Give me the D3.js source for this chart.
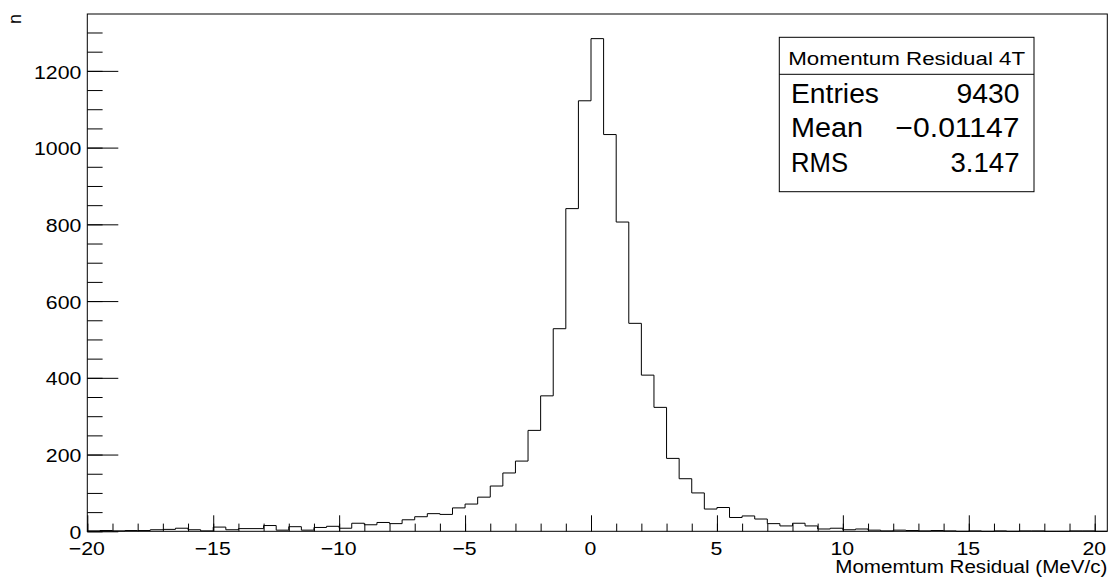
<!DOCTYPE html>
<html>
<head>
<meta charset="utf-8">
<script src="https://cdn.jsdelivr.net/npm/d3@7"></script>
<style>
  html, body { margin: 0; padding: 0; background: #fff; }
  svg { display: block; font-family: "Liberation Sans", Arial, Helvetica, sans-serif; }
</style>
</head>
<body>
<svg id="chart" width="1109" height="577"></svg>
<script>
// Histogram binning: 81 bins of 0.5 MeV/c starting at -20
const binStart = -20;
const binWidth = 0.5;
const counts = [
  1, 2, 1, 2, 2, 4, 5, 8, 4, 1,
  11, 4, 7, 7, 15, 3, 12, 3, 10, 13,
  8, 21, 17, 23, 20, 30, 38, 46, 44,
  61, 71, 89, 118, 152, 183, 263, 353, 528,
  841, 1122, 1284, 1034, 806,
  542, 407, 323, 190, 137, 100, 58, 62, 36, 40, 32, 20, 14, 21, 14, 6, 8, 4, 6, 3, 1, 3,
  2, 1, 2, 1, 0, 1, 0, 1, 0, 1, 1, 0, 0, 1, 1, 0
];

// Axis ticks and labels
const xMajorTicks = [-20, -15, -10, -5, 0, 5, 10, 15, 20];
const xMinorTicks = d3.range(-20, 21, 1);
const yMajorTicks = [0, 200, 400, 600, 800, 1000, 1200];
const yMinorTicks = d3.range(0, 1301, 50);
const xTitle = "Momemtum Residual (MeV/c)";
const yTitle = "n";

// Statistics box
const statsTitle = "Momentum Residual 4T";
const statsLabels = ["Entries", "Mean", "RMS"];
const statsValues = ["9430", "\u22120.01147", "3.147"];

const svg = d3.select("#chart");
const frame = { left: 87.3, right: 1107.3, top: 14, bottom: 531.3 };
const xMax = binStart + binWidth * counts.length;
const yMax = d3.max(counts) * 1.05;

const x = d3.scaleLinear().domain([binStart, xMax]).range([frame.left, frame.right]);
const y = d3.scaleLinear().domain([0, yMax]).range([frame.bottom, frame.top]);

const fmt = v => (v < 0 ? "\u2212" + Math.abs(v) : String(v));
const labelScale = 1.15;

// Histogram outline drawn as steps
let d = `M${x(binStart)},${y(0)}`;
counts.forEach((c, i) => {
  d += `V${y(c)}H${x(binStart + binWidth * (i + 1))}`;
});
d += `V${y(0)}`;
svg.append("path")
  .attr("d", d)
  .attr("fill", "none")
  .attr("stroke", "#000")
  .attr("stroke-width", 1);

// Frame
svg.append("rect")
  .attr("x", frame.left).attr("y", frame.top)
  .attr("width", frame.right - frame.left)
  .attr("height", frame.bottom - frame.top)
  .attr("fill", "none").attr("stroke", "#000").attr("stroke-width", 1);

// X axis: major and minor ticks pointing inward
const gx = svg.append("g").attr("transform", `translate(0,${frame.bottom})`);
gx.append("g")
  .call(d3.axisBottom(x).tickValues(xMinorTicks).tickSize(-7.7).tickFormat(""))
  .call(g => g.select(".domain").remove());
gx.append("g")
  .call(d3.axisBottom(x).tickValues(xMajorTicks).tickSize(-16).tickFormat(fmt))
  .call(g => g.select(".domain").remove())
  .call(g => g.selectAll("text")
    .attr("y", 0).attr("dy", 0)
    .attr("fill", "#000")
    .attr("font-size", 18.5)
    .attr("font-family", "Liberation Sans, Arial, sans-serif")
    .attr("transform", `translate(-1,23.7) scale(${labelScale},1)`));
gx.selectAll("line").attr("stroke", "#000");

// Y axis: major and minor ticks pointing inward
const gy = svg.append("g").attr("transform", `translate(${frame.left},0)`);
gy.append("g")
  .call(d3.axisLeft(y).tickValues(yMinorTicks).tickSize(-15.3).tickFormat(""))
  .call(g => g.select(".domain").remove());
gy.append("g")
  .call(d3.axisLeft(y).tickValues(yMajorTicks).tickSize(-31).tickFormat(fmt))
  .call(g => g.select(".domain").remove())
  .call(g => g.selectAll("text")
    .attr("x", 0).attr("dy", "0.36em")
    .attr("fill", "#000")
    .attr("font-size", 18.5)
    .attr("font-family", "Liberation Sans, Arial, sans-serif")
    .attr("transform", `translate(-6,0.5) scale(${labelScale},1)`));
gy.selectAll("line").attr("stroke", "#000");

// Axis titles
svg.append("text")
  .attr("x", frame.right).attr("y", 573)
  .attr("text-anchor", "end")
  .attr("font-size", 18)
  .attr("textLength", 272)
  .attr("lengthAdjust", "spacingAndGlyphs")
  .text(xTitle);

svg.append("text")
  .attr("transform", `translate(21,${frame.top}) rotate(-90)`)
  .attr("text-anchor", "end")
  .attr("font-size", 18)
  .text(yTitle);

// Statistics box
const box = { x0: 779.3, x1: 1034, y0: 37.3, y1: 191.7, sep: 74.3 };
const stats = svg.append("g");
stats.append("rect")
  .attr("x", box.x0).attr("y", box.y0)
  .attr("width", box.x1 - box.x0).attr("height", box.y1 - box.y0)
  .attr("fill", "#fff").attr("stroke", "#000").attr("stroke-width", 1);
stats.append("line")
  .attr("x1", box.x0).attr("x2", box.x1)
  .attr("y1", box.sep).attr("y2", box.sep)
  .attr("stroke", "#000").attr("stroke-width", 1);
stats.append("text")
  .attr("x", (box.x0 + box.x1) / 2).attr("y", 65)
  .attr("text-anchor", "middle")
  .attr("font-size", 18)
  .attr("textLength", 237)
  .attr("lengthAdjust", "spacingAndGlyphs")
  .text(statsTitle);

const rowBaselines = [103.3, 137.3, 171.7];
const labelWidths = [88, 72, 57];
const valueWidths = [63, 124, 69];
statsLabels.forEach((t, i) => {
  stats.append("text")
    .attr("x", 791).attr("y", rowBaselines[i])
    .attr("font-size", 27)
    .attr("textLength", labelWidths[i])
    .attr("lengthAdjust", "spacingAndGlyphs")
    .text(t);
  stats.append("text")
    .attr("x", 1019.5).attr("y", rowBaselines[i])
    .attr("text-anchor", "end")
    .attr("font-size", 27)
    .attr("textLength", valueWidths[i])
    .attr("lengthAdjust", "spacingAndGlyphs")
    .text(statsValues[i]);
});
</script>
</body>
</html>
